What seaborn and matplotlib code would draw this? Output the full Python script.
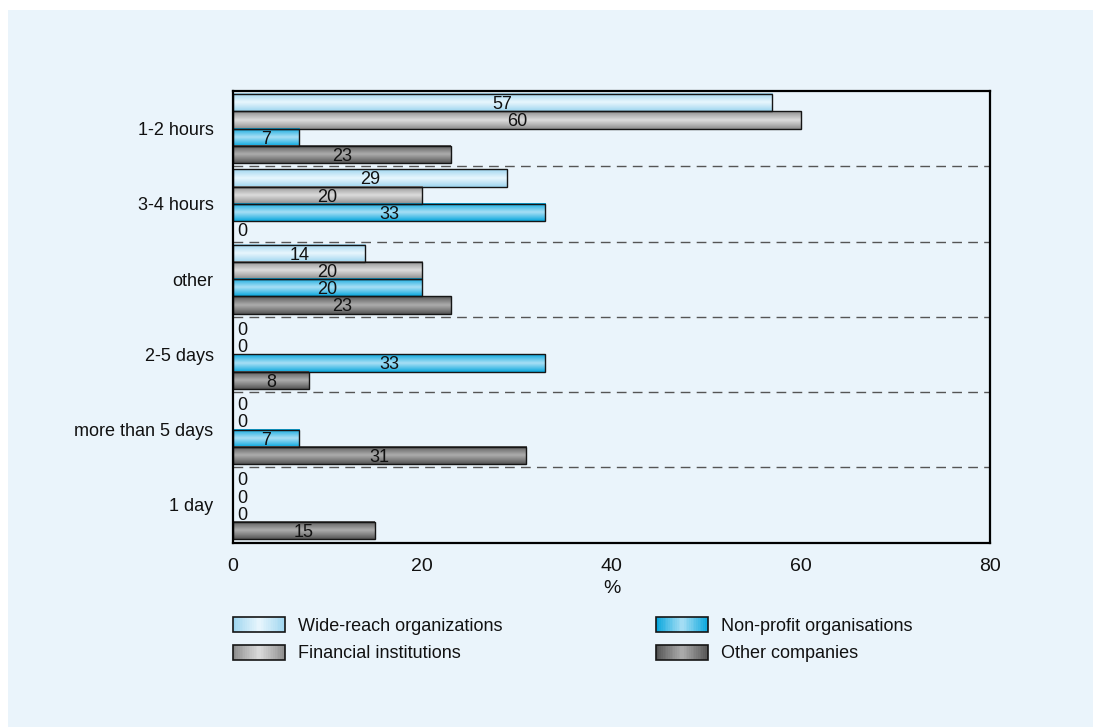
import numpy as np
import pandas as pd
import matplotlib
matplotlib.use("Agg")
import matplotlib.pyplot as plt
from matplotlib.patches import Rectangle
from matplotlib.legend_handler import HandlerBase
from matplotlib.colors import to_rgb
import seaborn as sns

# Response-time categories (top to bottom)
categories = ["1-2 hours", "3-4 hours", "other", "2-5 days", "more than 5 days", "1 day"]

# Share of respondents per group, in %
wide_reach = [57, 29, 14, 0, 0, 0]
financial = [60, 20, 20, 0, 0, 0]
non_profit = [7, 33, 20, 33, 7, 0]
other_companies = [23, 0, 23, 8, 31, 15]

series_names = ["Wide-reach organizations", "Financial institutions",
                "Non-profit organisations", "Other companies"]
series_values = [wide_reach, financial, non_profit, other_companies]

# (outer shade, highlight) for the cylinder-like gradient fills
shades = {
    "Wide-reach organizations": ("#9cd4ef", "#e8f6fd"),
    "Financial institutions": ("#8a8a8a", "#dcdcdc"),
    "Non-profit organisations": ("#04a5dc", "#a8dff5"),
    "Other companies": ("#525252", "#adadad"),
}

x_ticks = [0, 20, 40, 60, 80]

df = pd.DataFrame(
    [(cat, name, val)
     for name, vals in zip(series_names, series_values)
     for cat, val in zip(categories, vals)],
    columns=["category", "series", "value"],
)

sns.set_style("white")
family = ["Liberation Sans", "DejaVu Sans"]
plt.rcParams["font.family"] = family

BG = "#eaf4fb"
INK = "#111111"
fig = plt.figure(figsize=(10.93, 7.27), dpi=100, facecolor="white")
fig.patches.append(Rectangle((8 / 1093, 0), 1, 1 - 10 / 727, transform=fig.transFigure,
                             facecolor=BG, edgecolor="none", zorder=-10))

ax = fig.add_axes([233 / 1093, 1 - 542.5 / 727, 757 / 1093, 451.5 / 727])
ax.set_facecolor("none")

mid_palette = {n: shades[n][0] for n in series_names}
sns.barplot(data=df, x="value", y="category", hue="series", order=categories,
            hue_order=series_names, orient="h", width=0.92, palette=mid_palette,
            saturation=1, edgecolor="#151515", linewidth=1.0, legend=False, ax=ax)


def gradient(c_out, c_mid, n=64):
    a = np.array(to_rgb(c_out))
    b = np.array(to_rgb(c_mid))
    t = np.linspace(-1, 1, n)
    w = (1 - np.abs(t)) ** 0.9
    return a[None, :] * (1 - w[:, None]) + b[None, :] * w[:, None]


# Gradient fill + value labels for every bar
for name, vals, cont in zip(series_names, series_values, ax.containers):
    g = gradient(*shades[name])[:, None, :]
    for patch, val in zip(cont.patches, vals):
        x0, y0 = patch.get_xy()
        w, h = patch.get_width(), patch.get_height()
        yc = y0 + h / 2 + 0.025
        if val > 0:
            ax.imshow(g, extent=(x0, x0 + w, y0 + h, y0), aspect="auto",
                      interpolation="bilinear", zorder=1.5)
            patch.set_facecolor("none")
            patch.set_zorder(2)
            ax.text(x0 + w / 2, yc, f"{val}", ha="center", va="center",
                    fontsize=13, color=INK, zorder=3)
        else:
            patch.set_edgecolor("none")
            ax.text(0.45, yc, f"{val}", ha="left", va="center",
                    fontsize=13, color=INK, zorder=3)

# Dashed separators between groups
for yb in np.arange(0.5, len(categories) - 1, 1):
    ax.axhline(yb, color="#555555", lw=1.0, dashes=(7, 4.5), zorder=1)

ax.set_xlim(0, 80)
ax.set_ylim(len(categories) - 0.5, -0.5)
ax.set_xticks(x_ticks)
ax.set_xticklabels([str(t) for t in x_ticks], fontsize=14)
ax.set_yticks(range(len(categories)))
ax.set_yticklabels(categories, fontsize=13)
ax.set_yticks(np.arange(-0.5, len(categories), 1), minor=True)
ax.tick_params(axis="y", which="major", length=0, pad=14, colors=INK)
ax.tick_params(axis="y", which="minor", length=5.5, width=1.6, direction="out", color="black")
ax.tick_params(axis="x", which="major", length=4.5, width=1.4, direction="out",
               pad=7, color="black", labelcolor=INK)
ax.set_xlabel("%", fontsize=14, labelpad=3, color=INK)
ax.set_ylabel("")
for s in ax.spines.values():
    s.set_visible(True)
    s.set_color("black")
    s.set_linewidth(1.6)


class GradientHandler(HandlerBase):
    def __init__(self, c_out, c_mid):
        super().__init__()
        self.c_out, self.c_mid = c_out, c_mid

    def create_artists(self, legend, orig_handle, xdescent, ydescent,
                       width, height, fontsize, trans):
        cols = gradient(self.c_out, self.c_mid, n=30)
        n = len(cols)
        arts = []
        for i, c in enumerate(cols):
            arts.append(Rectangle((-xdescent + i * width / n, -ydescent), width / n * 1.05,
                                  height, facecolor=c, edgecolor="none", transform=trans))
        arts.append(Rectangle((-xdescent, -ydescent), width, height, facecolor="none",
                              edgecolor="#151515", lw=1.2, transform=trans))
        return arts


handles = {n: Rectangle((0, 0), 1, 1) for n in series_names}
hmap = {handles[n]: GradientHandler(*shades[n]) for n in series_names}

legend_kw = dict(loc="upper left", frameon=False, fontsize=13, handlelength=2.9,
                 handleheight=0.9, handletextpad=0.72, labelspacing=0.55,
                 borderpad=0, borderaxespad=0, handler_map=hmap)
for names, xpos in ((series_names[:2], 233), (series_names[2:], 656)):
    leg = fig.legend([handles[n] for n in names], names,
                     bbox_to_anchor=(xpos / 1093, 1 - 617 / 727), **legend_kw)
    for t in leg.get_texts():
        t.set_color(INK)

fig.savefig("out.png", dpi=100, facecolor="white")
